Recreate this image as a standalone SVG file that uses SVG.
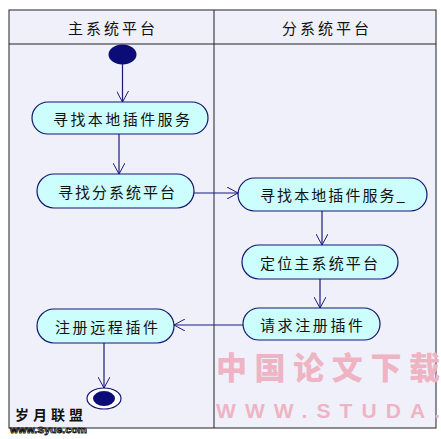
<svg xmlns="http://www.w3.org/2000/svg" width="441" height="439" viewBox="0 0 441 439">
<defs>
<style>
.act{fill:#ccfefe;stroke:#14146e;stroke-width:1.2}
.lbl{font-family:"Noto Sans CJK SC","Liberation Sans",sans-serif;font-size:15px;fill:#111;dominant-baseline:central}
.edge{stroke:#1a1a80;stroke-width:1.2;fill:none}
</style>
<marker id="open" viewBox="0 0 12 12" refX="11" refY="6" markerWidth="12" markerHeight="12" markerUnits="userSpaceOnUse" orient="auto">
<path d="M0,0 L11,6 L0,12" fill="none" stroke="#1a1a80" stroke-width="1"/>
</marker>
</defs>
<rect x="0" y="0" width="441" height="439" fill="#ffffff"/>
<g id="swimlanes">
<rect x="9" y="10" width="427" height="418" fill="#f0f0fa" stroke="#222" stroke-width="1"/>
<line x1="9" y1="44" x2="436" y2="44" stroke="#222" stroke-width="1"/>
<line x1="214" y1="10" x2="214" y2="428" stroke="#222" stroke-width="1"/>
<text class="lbl" x="68" y="27" textLength="87" lengthAdjust="spacing">主系统平台</text>
<text class="lbl" x="282" y="27" textLength="87" lengthAdjust="spacing">分系统平台</text>
</g>
<g id="connectors">
<line class="edge" x1="122.5" y1="64" x2="122.5" y2="102" marker-end="url(#open)"/>
<line class="edge" x1="119" y1="134" x2="119" y2="174" marker-end="url(#open)"/>
<line class="edge" x1="194" y1="193" x2="238" y2="193" marker-end="url(#open)"/>
<line class="edge" x1="322" y1="211" x2="322" y2="245" marker-end="url(#open)"/>
<line class="edge" x1="320" y1="279" x2="320" y2="308" marker-end="url(#open)"/>
<line class="edge" x1="243" y1="325" x2="174" y2="325" marker-end="url(#open)"/>
<line class="edge" x1="104" y1="343" x2="104" y2="388" marker-end="url(#open)"/>
</g>
<g id="start"><ellipse cx="122.5" cy="54.5" rx="14" ry="10" fill="#0c0c78"/></g>
<g id="n1"><rect class="act" x="32" y="102" width="176" height="32" rx="16"/><text class="lbl" x="53" y="118" textLength="137" lengthAdjust="spacing">寻找本地插件服务</text></g>
<g id="n2"><rect class="act" x="37" y="174" width="157" height="34" rx="17"/><text class="lbl" x="58" y="191" textLength="117" lengthAdjust="spacing">寻找分系统平台</text></g>
<g id="n3"><rect class="act" x="238" y="178" width="189" height="33" rx="16.5"/><text class="lbl" x="260" y="194.5" textLength="145" lengthAdjust="spacing">寻找本地插件服务_</text></g>
<g id="n4"><rect class="act" x="242" y="245" width="156" height="34" rx="17"/><text class="lbl" x="260" y="262" textLength="118" lengthAdjust="spacing">定位主系统平台</text></g>
<g id="n5"><rect class="act" x="243" y="308" width="137" height="32" rx="16"/><text class="lbl" x="260" y="324" textLength="103" lengthAdjust="spacing">请求注册插件</text></g>
<g id="n6"><rect class="act" x="37" y="309" width="137" height="34" rx="17"/><text class="lbl" x="55" y="326" textLength="103" lengthAdjust="spacing">注册远程插件</text></g>
<g id="end"><ellipse cx="104" cy="398.5" rx="17" ry="10.5" fill="#ffffff" stroke="#14146e" stroke-width="1.2"/><ellipse cx="104" cy="398.5" rx="11" ry="7.5" fill="#0c0c78"/></g>
<g id="watermarks">
<text x="216" y="379" font-family="Noto Sans CJK SC,sans-serif" font-weight="900" font-size="31" fill="#eeb4c4" textLength="224" lengthAdjust="spacing">中国论文下载</text>
<text x="216" y="418" font-family="Liberation Sans,sans-serif" font-weight="bold" font-size="21" fill="#eeb4c4" textLength="224" lengthAdjust="spacing">WWW.STUDA.</text>
<text x="15" y="420" font-family="Noto Sans CJK SC,sans-serif" font-weight="bold" font-size="14" fill="#111" textLength="68" lengthAdjust="spacing">岁月联盟</text>
<text x="10" y="433" font-family="Liberation Sans,sans-serif" font-weight="bold" font-size="9" fill="#fff" stroke="#111" stroke-width="0.8" textLength="77" lengthAdjust="spacingAndGlyphs">www.Syue.com</text>
</g>
</svg>
